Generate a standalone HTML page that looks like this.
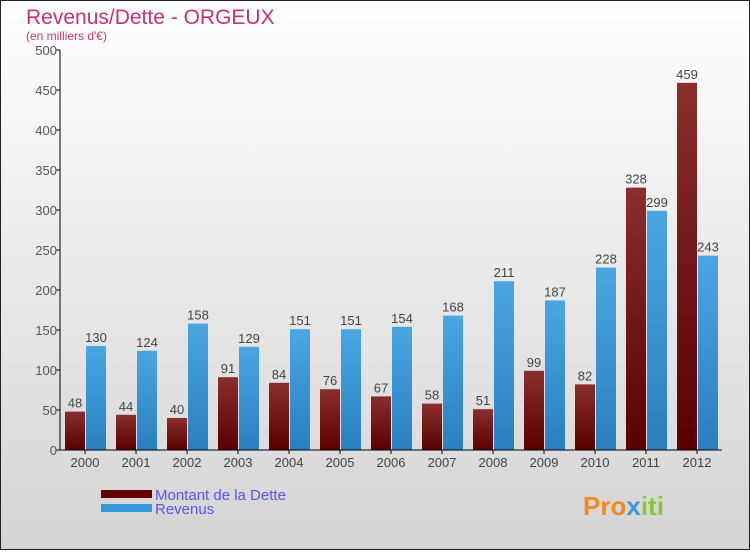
<!DOCTYPE html>
<html><head><meta charset="utf-8"><style>
body{margin:0}
#c{width:750px;height:550px;position:relative;font-family:"Liberation Sans","DejaVu Sans",sans-serif}
</style></head><body>
<div id="c">
<svg width="750" height="550" xmlns="http://www.w3.org/2000/svg" id="svg">
<defs>
<linearGradient id="bg" x1="0" y1="0" x2="0" y2="1"><stop offset="0" stop-color="#ffffff"/><stop offset="1" stop-color="#d4d4d4"/></linearGradient>
<linearGradient id="gd" x1="0" y1="0" x2="0" y2="1"><stop offset="0" stop-color="#8a2e2e"/><stop offset="1" stop-color="#5a0000"/></linearGradient>
<linearGradient id="gr" x1="0" y1="0" x2="0" y2="1"><stop offset="0" stop-color="#4aa6e2"/><stop offset="1" stop-color="#2a7fbf"/></linearGradient>
</defs>
<rect x="0.5" y="0.5" width="749" height="549" fill="url(#bg)" stroke="#222"/>
<text x="26" y="24" font-size="21" fill="#c8336a">Revenus/Dette - ORGEUX</text>
<text x="26" y="40" font-size="12" fill="#c8336a">(en milliers d'€)</text>
<g id="plot"></g>
<g>
<rect x="101" y="490" width="51" height="8" fill="#660000"/>
<text x="155" y="500" font-size="15" fill="#5555ee">Montant de la Dette</text>
<rect x="101" y="504" width="51" height="8" fill="#3399dd"/>
<text x="155" y="514" font-size="15" fill="#5555ee">Revenus</text>
</g>
<text x="583" y="515" font-size="26" font-weight="bold" fill="#f08a20">Pro<tspan fill="#3a9ad9">x</tspan><tspan fill="#8cc63f">iti</tspan></text>
</svg>
</div>
<script>
const years=["2000","2001","2002","2003","2004","2005","2006","2007","2008","2009","2010","2011","2012"];
const dette=[48,44,40,91,84,76,67,58,51,99,82,328,459];
const revenus=[130,124,158,129,151,151,154,168,211,187,228,299,243];
const yTicks=[0,50,100,150,200,250,300,350,400,450,500];
const NS="http://www.w3.org/2000/svg";
const g=document.getElementById('plot');
const y=v=>450-v*0.8;
const xc=i=>85+51*i;
function mk(t,a){const e=document.createElementNS(NS,t);for(const k in a)e.setAttribute(k,a[k]);g.appendChild(e);return e;}
yTicks.forEach(v=>{
 const l=mk('line',{x1:56,x2:60,y1:y(v),y2:y(v),stroke:'#000'});
 
 
 const t=mk('text',{x:57,y:y(v)+5,'font-size':13,fill:'#555','text-anchor':'end'});t.textContent=v;
 
 
});
years.forEach((yr,i)=>{
 const c=xc(i);
 const d=mk('rect',{x:c-20,y:y(dette[i]),width:20,height:dette[i]*0.8,fill:'url(#gd)'});
 
 
 const r=mk('rect',{x:c+1,y:y(revenus[i]),width:20,height:revenus[i]*0.8,fill:'url(#gr)'});
 
 
 const t1=mk('text',{x:c-10,y:y(dette[i])-4,'font-size':13,fill:'#444','text-anchor':'middle'});t1.textContent=dette[i];
 
 
 const t2=mk('text',{x:c+11,y:y(revenus[i])-4,'font-size':13,fill:'#444','text-anchor':'middle'});t2.textContent=revenus[i];
 
 
 const tk=mk('line',{x1:c,x2:c,y1:450,y2:454,stroke:'#000'});
 
 
 const xl=mk('text',{x:c,y:467,'font-size':13,fill:'#444','text-anchor':'middle'});xl.textContent=yr;
 
 
});
const ya=mk('line',{x1:60,x2:60,y1:50,y2:450,stroke:'#000'});


const xa=mk('line',{x1:60,x2:722,y1:450,y2:450,stroke:'#000'});


</script>
</body></html>
